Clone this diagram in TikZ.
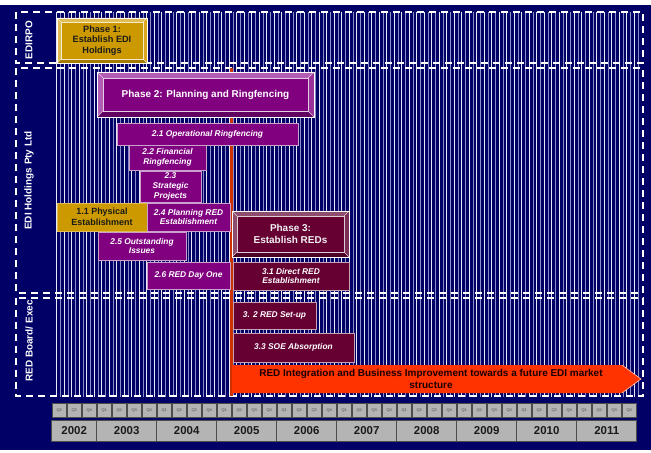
\documentclass[tikz,border=0pt]{standalone}
\usepackage{fontspec}
\setmainfont{Liberation Sans}
\usetikzlibrary{calc}
\definecolor{navy}{HTML}{000066}
\definecolor{lav}{HTML}{8C8CC8}
\definecolor{stripew}{HTML}{E8E8F4}
\definecolor{gold}{HTML}{CC9900}
\definecolor{goldlt}{HTML}{E0BC55}
\definecolor{goldmd}{HTML}{D9A81F}
\definecolor{golddk}{HTML}{A67C00}
\definecolor{purp}{HTML}{800080}
\definecolor{purplt}{HTML}{B35CB3}
\definecolor{purpmd}{HTML}{993399}
\definecolor{purpdk}{HTML}{600060}
\definecolor{purpbd}{HTML}{CCA0CC}
\definecolor{maroon}{HTML}{660033}
\definecolor{maroonlt}{HTML}{8F4D6E}
\definecolor{maroonmd}{HTML}{7A2E55}
\definecolor{maroondk}{HTML}{4A0025}
\definecolor{maroonbd}{HTML}{C8A0B4}
\definecolor{orangered}{HTML}{FF3300}
\definecolor{redline}{HTML}{CC3300}
\definecolor{qgray}{HTML}{B4B4B4}
\definecolor{qedge}{HTML}{4D4D4D}
\definecolor{darktxt}{HTML}{1A1A1A}
\newcommand\mybevel[6]{%
  \fill[#4] (#1.north west) -- (#1.north east) -- ([xshift=-#2,yshift=-#2]#1.north east) -- ([xshift=#2,yshift=-#2]#1.north west) -- cycle;
  \fill[#4] (#1.north west) -- ([xshift=#2,yshift=-#2]#1.north west) -- ([xshift=#2,yshift=#2]#1.south west) -- (#1.south west) -- cycle;
  \fill[#5] (#1.north east) -- ([xshift=-#2,yshift=-#2]#1.north east) -- ([xshift=-#2,yshift=#2]#1.south east) -- (#1.south east) -- cycle;
  \fill[#6] (#1.south west) -- ([xshift=#2,yshift=#2]#1.south west) -- ([xshift=-#2,yshift=#2]#1.south east) -- (#1.south east) -- cycle;
  \draw[white!80!#3, line width=0.5bp] ([xshift=#2,yshift=-#2]#1.north west) rectangle ([xshift=-#2,yshift=#2]#1.south east);
  \draw[white!80!#3, line width=0.4bp] (#1.north west) -- ([xshift=#2,yshift=-#2]#1.north west)
     (#1.north east) -- ([xshift=-#2,yshift=-#2]#1.north east)
     (#1.south west) -- ([xshift=#2,yshift=#2]#1.south west)
     (#1.south east) -- ([xshift=-#2,yshift=#2]#1.south east);
  \draw[white, line width=0.9bp] (#1.north west) rectangle (#1.south east);
}
\tikzset{
  lane/.style={white, line width=1.5bp, dash pattern=on 7bp off 5bp},
  lanelabel/.style={rotate=90, text=white, font=\bfseries\fontsize{10}{12}\selectfont, inner sep=0},
  phasebox/.style={inner sep=0, outer sep=0, align=center},
  subbox/.style={inner sep=0, outer sep=0, align=center, text=white, line width=0.7bp,
     font=\bfseries\itshape\fontsize{8.4}{9.6}\selectfont},
  psub/.style={subbox, fill=purp, draw=purpbd},
  msub/.style={subbox, fill=maroon, draw=maroonbd},
  qbox/.style={fill=qgray, draw=qedge, line width=0.5bp, inner sep=0, outer sep=0,
     minimum width=14bp, minimum height=14bp, font=\fontsize{4}{4}\selectfont, text=qedge},
  ybox/.style={fill=qgray, draw=qedge, line width=0.9bp, inner sep=0, outer sep=0,
     minimum height=21bp, font=\bfseries\fontsize{11.5}{12}\selectfont, text=darktxt}
}
\begin{document}
\begin{tikzpicture}[x=1bp, y={(0,-1bp)}]
\useasboundingbox (0,0) rectangle (651,453);
\fill[white] (0,0) rectangle (651,453);
\fill[navy] (0,5) rectangle (651,450);
% stripes
\foreach \i in {0,...,77} {
  \draw[stripew, line width=0.9bp] ({56.7+7.5*\i},12) -- ({56.7+7.5*\i},397);
  \draw[lav, line width=0.9bp] ({60.45+7.5*\i},12) -- ({60.45+7.5*\i},397);
}
% lanes
\draw[lane] (16,12) rectangle (643,63);
\draw[lane] (16,68) rectangle (643,293);
\draw[lane] (16,298) rectangle (643,396);
\node[lanelabel] (l1) at (29,40) {EDIRPO};
\node[lanelabel] (l2) at (29,180.5) {EDI Holdings Pty Ltd};
\node[lanelabel] (l3) at (29,341) {RED Board/ Exec};
% red line
\coordinate (rt) at (231.5,68);
\coordinate (rb) at (231.5,396);
\draw[redline, line width=3bp] (rt) -- (rb);
% Phase 1
\node[phasebox, fill=gold, minimum width=90bp, minimum height=45bp, text=darktxt,
  font=\bfseries\fontsize{9.2}{10.2}\selectfont] (ph1) at (102,40.5) {Phase 1:\\Establish EDI\\Holdings};
\mybevel{ph1}{4bp}{gold}{goldlt}{goldmd}{golddk}
% Phase 2
\node[phasebox, fill=purp, minimum width=217bp, minimum height=45bp, text=white,
  font=\bfseries\fontsize{10}{12}\selectfont] (ph2) at (205.5,94.5) {Phase 2: Planning and Ringfencing};
\mybevel{ph2}{6bp}{purp}{purplt}{purpmd}{purpdk}
% Phase 2 sub-boxes
\node[psub, minimum width=181bp, minimum height=22bp] (b21) at (207.5,134) {2.1 Operational Ringfencing};
\node[psub, minimum width=77bp, minimum height=25bp] (b22) at (167.5,157.5) {2.2 Financial\\Ringfencing};
\node[psub, minimum width=61bp, minimum height=31bp] (b23) at (170.5,186.5) {2.3\\Strategic\\Projects};
\node[subbox, fill=gold, draw=goldlt, text=darktxt, font=\bfseries\fontsize{9}{10.5}\selectfont,
  minimum width=90bp, minimum height=28bp] (b11) at (102,217) {1.1 Physical\\Establishment};
\node[psub, minimum width=83bp, minimum height=28bp] (b24) at (188.5,217) {2.4 Planning RED\\Establishment};
\node[psub, minimum width=88bp, minimum height=28bp] (b25) at (142,246) {2.5 Outstanding\\Issues};
\node[psub, minimum width=83bp, minimum height=27bp] (b26) at (188.5,275.5) {2.6 RED Day One};
% Phase 3
\node[phasebox, fill=maroon, minimum width=117bp, minimum height=46bp, text=white!90!gray,
  font=\bfseries\fontsize{10}{12}\selectfont] (ph3) at (290.5,234) {Phase 3:\\Establish REDs};
\mybevel{ph3}{5bp}{maroon}{maroonlt}{maroonmd}{maroondk}
\node[msub, minimum width=116bp, minimum height=28bp] (b31) at (291,276) {3.1 Direct RED\\Establishment};
\node[msub, minimum width=83bp, minimum height=27bp] (b32) at (274.5,315.5) {3. 2 RED Set-up};
\node[msub, minimum width=121bp, minimum height=29bp] (b33) at (293.5,347.5) {3.3 SOE Absorption};
% big arrow
\fill[orangered] (232,365) -- (622,365) -- (641,379) -- (622,393) -- (232,393) -- cycle;
\draw[white!70!orangered, line width=0.6bp] (622,365) -- (641,379) -- (622,393);
\node[align=center, inner sep=0, text=black!90!red, font=\bfseries\fontsize{10}{11.7}\selectfont] (arr) at (431,379)
  {RED Integration and Business Improvement towards a future EDI market\\structure};
% quarters
\foreach \i in {0,...,38} {
  \pgfmathtruncatemacro\qn{mod(\i+1,4)+1}
  \node[qbox] (q\i) at ({51.7+15*\i+7.5},410) {Q\qn};
}
% years
\node[ybox, minimum width=45bp] (y2002) at ({51.7+22.5},430.5) {2002};
\foreach \y [count=\j from 0] in {2003,2004,2005,2006,2007,2008,2009,2010,2011} {
  \node[ybox, minimum width=60bp] (y\y) at ({96.7+60*\j+30},430.5) {\y};
}
\end{tikzpicture}
\end{document}
